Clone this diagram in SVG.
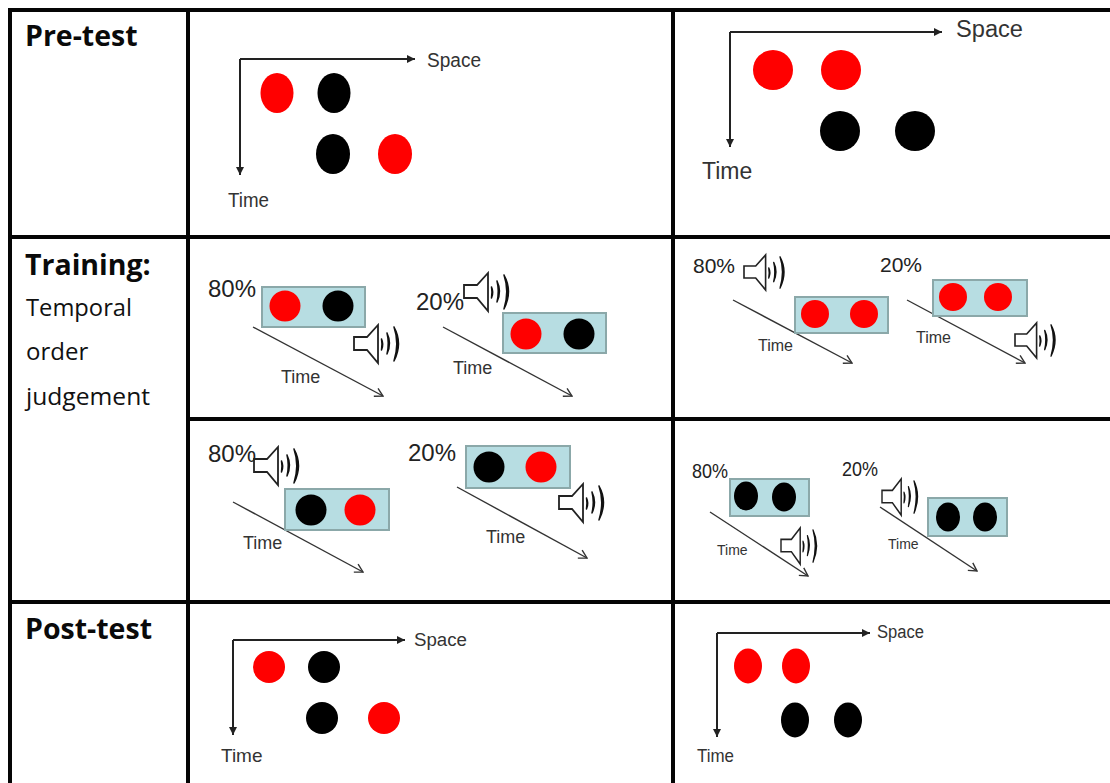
<svg xmlns="http://www.w3.org/2000/svg" width="1110" height="783" viewBox="0 0 1110 783">
<style>
.grid{stroke:#050505;stroke-width:4;fill:none}
.h{font-family:"Open Sans","Noto Sans",sans-serif;font-weight:700;font-size:28.5px;fill:#0a0a0a}
.s{font-family:"Open Sans","Noto Sans",sans-serif;font-size:24px;fill:#111}
.t{font-family:"Liberation Sans",Arial,sans-serif;fill:#333}
.box{fill:#b7dde2;stroke:#8ba8a9;stroke-width:2}
.r{fill:#f00}
.k{fill:#000}
.ax{stroke:#222;stroke-width:2;fill:none;marker-end:url(#solid)}
.di{stroke:#333;stroke-width:1.4;fill:none;marker-end:url(#open)}
.sp .c{fill:#fff;stroke:#222;stroke-width:1.8}
.sp .w{fill:#111;stroke:#111;stroke-width:1.5;stroke-linejoin:round}
</style>
<defs>
<marker id="solid" markerUnits="userSpaceOnUse" markerWidth="10" markerHeight="10" refX="9" refY="5" orient="auto"><path d="M1,1 L9,5 L1,9 Z" fill="#222"/></marker>
<marker id="open" markerUnits="userSpaceOnUse" markerWidth="12" markerHeight="12" refX="11" refY="6" orient="auto"><path d="M3,1.5 L11,6 L3,10.5" fill="none" stroke="#333" stroke-width="1.4"/></marker>
<g id="speaker" class="sp">
<path class="c" d="M0,12 H13 L24,0 V38 L13,25 H0 Z"/>
<path class="w" d="M27.5,14 Q30,19 27.5,25 Q28.5,19 27.5,14 Z"/>
<path class="w" d="M33,8 Q38,18 33,29 Q35.5,18 33,8 Z"/>
<path class="w" d="M40,2 Q49,18 40,36 Q45.5,18 40,2 Z"/>
</g>
</defs>
<rect width="1110" height="783" fill="#fff"/>
<g id="grid" class="grid">
<path d="M1110,10 H10 V783"/>
<path d="M188,10 V783 M673,10 V783"/>
<path d="M10,237 H1110 M188,419 H1110 M10,602 H1110"/>
</g>
<g id="labels">
<text class="h" x="25" y="46">Pre-test</text>
<text class="h" x="25" y="275">Training:</text>
<text class="s" x="26" y="316" textLength="106" lengthAdjust="spacingAndGlyphs">Temporal</text>
<text class="s" x="26" y="360">order</text>
<text class="s" x="26" y="405" textLength="124" lengthAdjust="spacingAndGlyphs">judgement</text>
<text class="h" x="25" y="639">Post-test</text>
</g>
<g id="connectors">
<path class="ax" d="M240,59 H415"/><path class="ax" d="M240,59 V175"/>
<path class="ax" d="M730,32 H942"/><path class="ax" d="M730,32 V147"/>
<path class="ax" d="M233,640 H405"/><path class="ax" d="M233,640 V735"/>
<path class="ax" d="M717,633 H870"/><path class="ax" d="M717,633 V737"/>
<path class="di" d="M253,327 L383,396"/>
<path class="di" d="M443,327 L572,396"/>
<path class="di" d="M733,300 L852,363"/>
<path class="di" d="M907,300 L1025,363"/>
<path class="di" d="M233,502 L363,572"/>
<path class="di" d="M457,487 L587,558"/>
<path class="di" d="M710,512 L808,576"/>
<path class="di" d="M880,507 L977,571"/>
</g>
<g id="pretest-left">
<ellipse class="r" cx="277" cy="93" rx="16.5" ry="20"/><ellipse class="k" cx="334" cy="93" rx="16.5" ry="20"/>
<ellipse class="k" cx="333" cy="154" rx="17" ry="20"/><ellipse class="r" cx="395" cy="154" rx="17" ry="20"/>
<text class="t" x="427" y="67" font-size="20" textLength="54" lengthAdjust="spacingAndGlyphs">Space</text><text class="t" x="228" y="207" font-size="20" textLength="41" lengthAdjust="spacingAndGlyphs">Time</text>
</g>
<g id="pretest-right">
<circle class="r" cx="773" cy="70" r="20"/><circle class="r" cx="841" cy="70" r="20"/>
<circle class="k" cx="840" cy="131" r="20"/><circle class="k" cx="915" cy="131" r="20"/>
<text class="t" x="956" y="37" font-size="23" textLength="67" lengthAdjust="spacingAndGlyphs">Space</text><text class="t" x="702" y="179" font-size="23">Time</text>
</g>
<g id="train-a-80">
<text class="t" x="208" y="297" font-size="24" style="fill:#222">80%</text>
<rect class="box" x="262" y="287" width="103" height="40"/>
<circle class="r" cx="285" cy="306" r="15.5"/><circle class="k" cx="338" cy="306" r="15.5"/>
<use href="#speaker" transform="translate(354,325)"/>
<text class="t" x="281" y="383" font-size="18">Time</text>
</g>
<g id="train-a-20">
<text class="t" x="416" y="310" font-size="24" style="fill:#222">20%</text>
<rect class="box" x="503" y="313" width="103" height="40"/>
<circle class="r" cx="526" cy="334" r="15.5"/><circle class="k" cx="579" cy="334" r="15.5"/>
<use href="#speaker" transform="translate(464,273)"/>
<text class="t" x="453" y="374" font-size="18">Time</text>
</g>
<g id="train-b-80">
<text class="t" x="693" y="273" font-size="21" style="fill:#222">80%</text>
<rect class="box" x="795" y="297" width="93" height="36"/>
<circle class="r" cx="815" cy="314" r="14"/><circle class="r" cx="864" cy="314" r="14"/>
<use href="#speaker" transform="translate(744,255) scale(.9,.92)"/>
<text class="t" x="758" y="351" font-size="16">Time</text>
</g>
<g id="train-b-20">
<text class="t" x="880" y="272" font-size="21" style="fill:#222">20%</text>
<rect class="box" x="933" y="280" width="94" height="36"/>
<circle class="r" cx="953" cy="297" r="14"/><circle class="r" cx="998" cy="297" r="14"/>
<use href="#speaker" transform="translate(1015,323) scale(.9,.92)"/>
<text class="t" x="916" y="343" font-size="16">Time</text>
</g>
<g id="train-c-80">
<text class="t" x="208" y="462" font-size="24" style="fill:#222">80%</text>
<rect class="box" x="285" y="489" width="104" height="41"/>
<circle class="k" cx="311" cy="510" r="15.5"/><circle class="r" cx="360" cy="510" r="15.5"/>
<use href="#speaker" transform="translate(254,447)"/>
<text class="t" x="243" y="549" font-size="18">Time</text>
</g>
<g id="train-c-20">
<text class="t" x="408" y="461" font-size="24" style="fill:#222">20%</text>
<rect class="box" x="466" y="446" width="104" height="42"/>
<circle class="k" cx="489" cy="467" r="15.5"/><circle class="r" cx="541" cy="467" r="15.5"/>
<use href="#speaker" transform="translate(559,484)"/>
<text class="t" x="486" y="543" font-size="18">Time</text>
</g>
<g id="train-d-80">
<text class="t" x="692" y="478" font-size="20" textLength="36" lengthAdjust="spacingAndGlyphs" style="fill:#222">80%</text>
<rect class="box" x="730" y="479" width="79" height="37"/>
<ellipse class="k" cx="746" cy="496" rx="12" ry="14.5"/><ellipse class="k" cx="784" cy="497" rx="12" ry="14.5"/>
<use href="#speaker" transform="translate(781,528) scale(.8,.95)"/>
<text class="t" x="717" y="555" font-size="14">Time</text>
</g>
<g id="train-d-20">
<text class="t" x="842" y="476" font-size="20" textLength="36" lengthAdjust="spacingAndGlyphs" style="fill:#222">20%</text>
<rect class="box" x="928" y="498" width="79" height="38"/>
<ellipse class="k" cx="948" cy="517" rx="12" ry="14.5"/><ellipse class="k" cx="985" cy="517" rx="12" ry="14.5"/>
<use href="#speaker" transform="translate(882,479) scale(.8,.95)"/>
<text class="t" x="888" y="549" font-size="14">Time</text>
</g>
<g id="posttest-left">
<circle class="r" cx="269" cy="667" r="16"/><circle class="k" cx="324" cy="667" r="16"/>
<circle class="k" cx="322" cy="718" r="16"/><circle class="r" cx="384" cy="718" r="16"/>
<text class="t" x="414" y="646" font-size="18" textLength="53" lengthAdjust="spacingAndGlyphs">Space</text><text class="t" x="221" y="762" font-size="19">Time</text>
</g>
<g id="posttest-right">
<ellipse class="r" cx="748" cy="666" rx="14" ry="17.5"/><ellipse class="r" cx="796" cy="666" rx="14" ry="17.5"/>
<ellipse class="k" cx="795" cy="720" rx="14" ry="17.5"/><ellipse class="k" cx="848" cy="720" rx="14" ry="17.5"/>
<text class="t" x="877" y="638" font-size="18" textLength="47" lengthAdjust="spacingAndGlyphs">Space</text><text class="t" x="697" y="762" font-size="19" textLength="37" lengthAdjust="spacingAndGlyphs">Time</text>
</g>
</svg>
